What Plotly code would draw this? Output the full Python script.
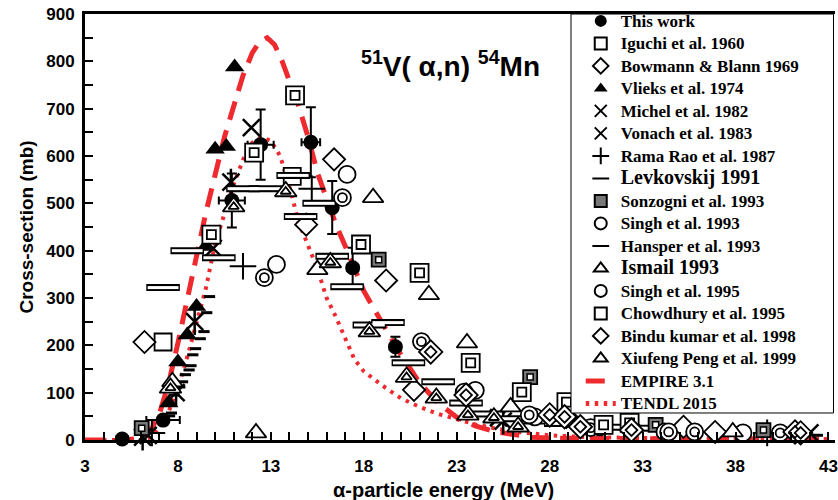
import plotly.graph_objects as go

# ---------------- data ----------------
this_E = [5.0, 7.2, 10.9, 12.45, 15.15, 16.3, 17.4, 19.7]
this_v = [2, 42, 506, 624, 629, 491, 364, 197]
this_dv = [0, 5, 57, 74, 74, 56, 42, 21]
this_dE = [0.3, 0.9, 0.7, 0.7, 0.5, 0.3, 0.3, 0.3]

iguchi_E = [7.2, 14.15]
iguchi_v = [207, 557]

bowmann_E = [6.2, 14.9, 16.4, 19.2, 20.7, 28.9, 32.4, 35.2, 36.9]
bowmann_v = [207, 455, 593, 337, 106, 49, 25, 28, 17]

vlieks_E = [7.5, 8.0, 8.5, 9.0, 9.5, 10.0, 10.6, 11.05]
vlieks_v = [78, 165, 222, 282, 409, 614, 620, 788]

michel_E = [6.4, 9.9, 11.95, 25.25, 42.0]
michel_v = [10, 405, 660, 47, 15]

vonach_E = [6.1, 7.9, 8.9, 10.85, 25.5]
vonach_v = [6, 100, 250, 545, 40]

rama_E = [6.6, 11.5, 15.2, 39.7]
rama_v = [15, 367, 531, 15]

levk_E = [7.2, 8.5, 10.2, 11.5, 12.7, 14.2, 14.6, 15.6, 16.3, 17.1, 18.3, 19.3,
          20.4, 22.0, 23.5, 24.6, 26.1, 27.4, 28.6, 30.0, 31.5, 33.0]
levk_v = [322, 400, 385, 531, 531, 559, 472, 500, 388, 324, 243, 248,
          163, 123, 78, 55, 45, 40, 35, 30, 27, 25]

sonz_E = [6.05, 18.8, 26.95, 33.7, 39.5]
sonz_v = [25, 381, 133, 32, 21]

singh93_E = [13.3, 17.1, 24.0, 27.2, 30.7, 34.2, 38.4]
singh93_v = [371, 561, 105, 49, 28, 17, 15]

hansper_E = [7.55, 7.65, 7.8, 8.1, 8.25, 8.4, 8.6, 8.7, 8.8, 8.95, 9.2, 9.4, 9.55, 9.7, 42.4]
hansper_v = [51, 57, 95, 112, 123, 138, 148, 157, 180, 193, 214, 229, 269, 303, 10]

ismail_E = [7.7, 12.2, 15.5, 18.5, 21.5, 23.55, 25.9, 37.85]
ismail_v = [123, 15, 360, 512, 307, 205, 70, 17]

singh95_E = [12.65, 16.85, 21.1, 23.4, 26.9, 30.2, 34.4, 35.8, 40.4]
singh95_v = [343, 512, 208, 101, 53, 26, 17, 17, 15]

chow_E = [9.8, 12.1, 14.3, 17.85, 21.0, 23.75, 26.5, 28.9, 30.9, 32.3]
chow_v = [434, 607, 728, 413, 353, 163, 101, 80, 32, 36]

bindu_E = [21.6, 23.5, 28.0, 28.8, 29.65, 32.4, 41.2, 41.5]
bindu_v = [186, 95, 53, 49, 28, 21, 17, 15]

xiu_E = [7.6, 11.0, 13.8, 16.2, 18.3, 20.3, 21.9, 23.6, 25.0, 26.3]
xiu_v = [110, 493, 525, 375, 229, 133, 89, 53, 47, 28]

empire_E = [3, 5, 6, 6.5, 7, 7.5, 8, 8.5, 9, 9.5, 10, 10.5, 11, 11.5, 12, 12.4, 12.8,
            13.2, 13.6, 14.0, 14.5, 15.0, 15.5, 16.0, 16.5, 17.0, 17.5, 18.0, 18.5,
            19.0, 19.5, 20, 21, 22, 23, 24, 25, 26, 27, 28, 30, 35, 43]
empire_v = [0, 0, 3, 18, 55, 120, 205, 300, 395, 480, 560, 640, 705, 770, 818, 842, 850,
            835, 801, 760, 705, 640, 565, 510, 455, 410, 360, 315, 280,
            245, 212, 180, 121, 78, 48, 30, 18, 11, 6, 4, 3, 2, 2]

tendl_E = [3, 6, 6.5, 7, 7.5, 8, 8.5, 9, 9.5, 10, 10.5, 11, 11.5, 12, 12.5, 13, 13.5,
           14, 14.5, 15, 15.5, 16, 16.5, 17, 17.5, 18, 19, 20, 21, 22, 23, 24, 25, 26,
           28, 30, 35, 43]
tendl_v = [0, 0, 5, 25, 60, 110, 175, 250, 320, 415, 478, 540, 592, 628, 640, 632, 600,
           535, 460, 410, 362, 300, 260, 215, 170, 145, 115, 88, 70, 55, 43, 33, 25, 18,
           10, 6, 3, 2]

# ---------------- figure ----------------
fig = go.Figure()
BL = "black"
RED = "#ee2a2f"


def lbl(t, size=17):
    return f"<span style='font-size:{size}px'>{t}</span>"


fig.add_trace(go.Scatter(x=empire_E, y=empire_v, mode="lines", name=lbl("EMPIRE 3.1"),
                         line=dict(color=RED, width=5, dash="19px,11px"),
                         legendrank=1700))
fig.add_trace(go.Scatter(x=tendl_E, y=tendl_v, mode="lines", name=lbl("TENDL 2015"),
                         line=dict(color=RED, width=4, dash="3.5px,5.5px"),
                         legendrank=1800))


def add(x, y, name, symbol, size, color="white", lcolor=BL, lw=1.8, rank=None,
        show=True, **kw):
    fig.add_trace(go.Scatter(
        x=x, y=y, mode="markers", name=name, showlegend=show,
        legendrank=rank if rank is not None else 1000,
        cliponaxis=False,
        marker=dict(symbol=symbol, size=size, color=color,
                    line=dict(color=lcolor, width=lw)), **kw))


add(this_E, this_v, lbl("This work"), "circle", 15, color=BL, lw=0, rank=100,
    error_y=dict(type="data", array=this_dv, color=BL, thickness=2, width=5),
    error_x=dict(type="data", array=this_dE, color=BL, thickness=2, width=4))
add(iguchi_E, iguchi_v, lbl("Iguchi et al. 1960"), "square", 17, rank=200)
add(bowmann_E, bowmann_v, lbl("Bowmann &amp; Blann 1969"), "diamond", 17, rank=300)
add(vlieks_E, vlieks_v, lbl("Vlieks et al. 1974"), "triangle-up", 17, color=BL, lw=0, rank=400)
add(michel_E, michel_v, lbl("Michel et al. 1982"), "x-thin-open", 17, color=BL, lw=2.5, rank=500)
add(vonach_E, vonach_v, lbl("Vonach et al. 1983"), "x-thin-open", 17, color=BL, lw=2.5, rank=600)
add(vonach_E, vonach_v, "Vonach ns", "line-ns-open", 19, color=BL, lw=2.5, show=False)
add(rama_E, rama_v, lbl("Rama Rao et al. 1987"), "cross-thin-open", 19, color=BL, lw=2, rank=700)
add(levk_E, levk_v, lbl("Levkovskij 1991", 20),
    "line-ew-open", 24, color=BL, lw=7, rank=800)
add(levk_E, levk_v, "levk inner", "line-ew-open", 22, color="white", lw=3, show=False)
add(sonz_E, sonz_v, lbl("Sonzogni et al. 1993"), "square", 14, color="#777777", rank=900)
add(sonz_E, sonz_v, "sonz inner", "square", 6, color="white", lw=1.5, show=False)
add(singh93_E, singh93_v, lbl("Singh et al. 1993"), "circle", 17, rank=1000)
add(hansper_E, hansper_v, lbl("Hansper et al. 1993"), "line-ew-open", 8, color=BL, lw=3, rank=1100)
add(ismail_E, ismail_v, lbl("Ismail 1993", 20), "triangle-up", 18, rank=1200)
add(singh95_E, singh95_v, lbl("Singh et al. 1995"), "circle", 17, rank=1300)
add(singh95_E, singh95_v, "singh95 inner", "circle", 9, show=False)
add(chow_E, chow_v, lbl("Chowdhury et al. 1995"), "square", 18, rank=1400)
add(chow_E, chow_v, "chow inner", "square", 9, show=False)
add(bindu_E, bindu_v, lbl("Bindu kumar et al. 1998"), "diamond", 18, rank=1500)
add(bindu_E, bindu_v, "bindu inner", "diamond", 9, show=False)
add(xiu_E, xiu_v, lbl("Xiufeng Peng et al. 1999"), "triangle-up", 19, rank=1600)
add(xiu_E, xiu_v, "xiu inner", "triangle-up", 9, show=False)

# legend frame (opaque box)
fig.add_shape(type="rect", xref="paper", yref="paper", x0=0.648, x1=0.998,
              y0=0.0634, y1=1.0, line=dict(color=BL, width=1), fillcolor="white",
              layer="above")

fig.add_annotation(x=0.487, y=0.93, xref="paper", yref="paper",
                   text="<sup>51</sup>V( α,n) <sup>54</sup>Mn", showarrow=False,
                   font=dict(family="Liberation Sans", size=28, color=BL, weight="bold"))

fig.add_annotation(x=0.478, y=-0.118, xref="paper", yref="paper", yanchor="middle",
                   text="α-particle energy (MeV)", showarrow=False,
                   font=dict(family="Liberation Sans", size=20, color=BL, weight="bold"))

axis_font = dict(family="Liberation Sans", size=17, color=BL, weight="bold")
fig.update_xaxes(range=[3, 43.35], tick0=3, dtick=5, ticks="inside", ticklen=8,
                 tickwidth=2, tickcolor=BL, showline=True, linewidth=3, linecolor=BL,
                 mirror=True, showgrid=False, zeroline=False, tickfont=axis_font,
                 ticklabelstandoff=9, ticklabeloverflow="allow",
                 minor=dict(dtick=1, ticks="inside", ticklen=8, tickwidth=2, tickcolor=BL))
fig.update_yaxes(range=[0, 900], dtick=100, ticks="inside", ticklen=8, tickwidth=2,
                 tickcolor=BL, showline=True, linewidth=3, linecolor=BL, mirror=False,
                 showgrid=False, zeroline=False, tickfont=axis_font, ticklabelstandoff=4,
                 minor=dict(dtick=50, ticks="inside", ticklen=8, tickwidth=2, tickcolor=BL),
                 title=dict(text="Cross-section (mb)", standoff=8,
                            font=dict(family="Liberation Sans", size=19, color=BL,
                                      weight="bold")))

fig.update_layout(
    width=838, height=500,
    margin=dict(l=85, r=0, t=14, b=60),
    paper_bgcolor="white", plot_bgcolor="white",
    legend=dict(x=0.661, y=1.022, xanchor="left", yanchor="top", maxheight=1000,
                bgcolor="rgba(0,0,0,0)", borderwidth=0, itemsizing="constant",
                tracegroupgap=0,
                font=dict(family="Liberation Serif", size=15, color=BL, weight="bold")),
)

fig.write_html("out.html")
